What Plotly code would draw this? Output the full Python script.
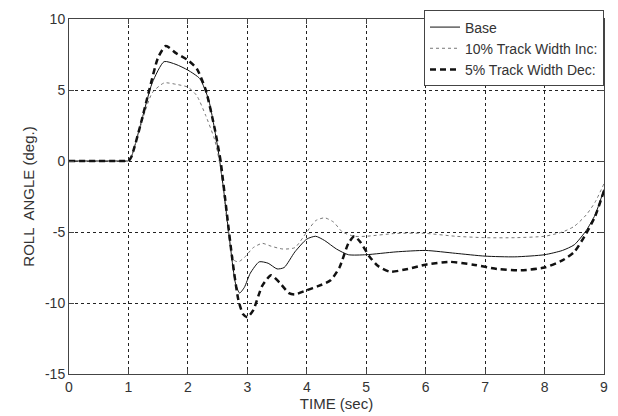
import plotly.graph_objects as go

# ---- data ----
t_base = [0, 0.9, 0.97, 1.0, 1.05, 1.2, 1.4, 1.6, 1.8, 2.0, 2.2, 2.35, 2.5, 2.6, 2.7, 2.8, 2.87, 2.95, 3.05, 3.2,
          3.35, 3.5, 3.62, 3.8, 4.0, 4.15, 4.3, 4.5, 4.7, 5.0, 5.5, 6.0, 6.5, 7.0, 7.5, 8.0, 8.3, 8.5,
          8.7, 8.85, 9.0]
v_base = [0, 0, 0, 0, 0.3, 2.5, 5.5, 7.0, 6.8, 6.4, 5.8, 4.3, 1.0, -2.0, -5.5, -8.6, -9.3, -8.9, -7.9, -7.1,
          -7.2, -7.6, -7.5, -6.4, -5.5, -5.3, -5.6, -6.2, -6.6, -6.6, -6.4, -6.3, -6.5, -6.7, -6.75,
          -6.6, -6.3, -5.9, -4.9, -3.8, -2.0]

t_inc = [0, 0.9, 0.97, 1.0, 1.05, 1.2, 1.4, 1.6, 1.8, 2.0, 2.15, 2.3, 2.45, 2.55, 2.65, 2.72, 2.78, 2.85, 2.95,
         3.1, 3.25, 3.4, 3.6, 3.8, 4.0, 4.15, 4.3, 4.45, 4.6, 4.8, 5.0, 5.5, 6.0, 6.5, 7.0, 7.5, 8.0,
         8.3, 8.5, 8.7, 8.85, 9.0]
v_inc = [0, 0, 0, 0, 0.3, 2.4, 4.8, 5.5, 5.4, 5.2, 4.6, 3.2, 1.5, -0.5, -4.0, -6.2, -7.0, -7.1, -6.8,
         -6.1, -5.8, -6.0, -6.2, -6.1, -5.0, -4.2, -4.0, -4.3, -5.0, -5.3, -5.3, -5.1, -5.1, -5.3,
         -5.4, -5.4, -5.3, -5.0, -4.6, -3.8, -2.9, -1.6]

t_dec = [0, 0.9, 0.97, 1.0, 1.05, 1.2, 1.35, 1.5, 1.63, 1.8, 2.0, 2.15, 2.3, 2.45, 2.55, 2.65, 2.75, 2.85, 2.93,
         3.0, 3.1, 3.25, 3.4, 3.55, 3.7, 3.8, 4.0, 4.2, 4.4, 4.55, 4.7, 4.8, 4.9, 5.05, 5.2, 5.4,
         5.7, 6.0, 6.4, 6.8, 7.2, 7.6, 8.0, 8.3, 8.5, 8.7, 8.85, 9.0]
v_dec = [0, 0, 0, 0, 0.3, 2.5, 5.0, 7.3, 8.1, 7.6, 7.1, 6.5, 5.0, 2.3, 0, -3.5, -7.0, -9.8, -10.8,
         -11.0, -10.5, -8.8, -8.05, -8.6, -9.3, -9.4, -9.1, -8.8, -8.4, -7.5, -5.8, -5.3, -5.7,
         -6.7, -7.4, -7.8, -7.6, -7.3, -7.1, -7.3, -7.6, -7.7, -7.5, -7.0, -6.4, -5.1, -3.9, -2.1]

series_names = ["Base", "10% Track Width Inc:", "5% Track Width Dec:"]
x_ticks = [0, 1, 2, 3, 4, 5, 6, 7, 8, 9]
x_ticktext = ["0", "1", "2", "3", "4", "5", "6", "7", "8", "9"]
y_ticks = [-15, -10, -5, 0, 5, 10]
y_ticktext = ["-15", "-10", "-5", "0", "5", "10"]

FONT = "Liberation Sans, Arial, sans-serif"
TXT = "#333333"

fig = go.Figure()
fig.add_trace(go.Scatter(x=t_base, y=v_base, mode="lines", name=series_names[0],
                         line=dict(color="#111111", width=1, shape="spline", smoothing=0.6)))
fig.add_trace(go.Scatter(x=t_inc, y=v_inc, mode="lines", name=series_names[1],
                         line=dict(color="#777777", width=1, dash="3px,3px", shape="spline", smoothing=0.6)))
fig.add_trace(go.Scatter(x=t_dec, y=v_dec, mode="lines", name=series_names[2],
                         line=dict(color="#111111", width=2.5, dash="6px,4px", shape="spline", smoothing=0.6)))

axis_common = dict(
    showline=True, linecolor="#444444", linewidth=1, mirror="ticks",
    ticks="inside", ticklen=5, tickcolor="#444444",
    showgrid=True, gridcolor="#222222", gridwidth=1, griddash="3px,3px",
    zeroline=False, tickfont=dict(family=FONT, size=14, color=TXT),
)

fig.update_xaxes(range=[0, 9], tickvals=x_ticks, ticktext=x_ticktext,
                 title=dict(text="TIME (sec)", font=dict(family=FONT, size=15, color=TXT), standoff=0),
                 **axis_common)
fig.update_yaxes(range=[-15, 10], tickvals=y_ticks, ticktext=y_ticktext,
                 title=dict(text="ROLL  ANGLE (deg.)", font=dict(family=FONT, size=15, color=TXT), standoff=6),
                 **axis_common)

fig.update_layout(
    width=618, height=416,
    margin=dict(l=69, r=14, t=10, b=42),
    paper_bgcolor="white", plot_bgcolor="white",
    font=dict(family=FONT, size=14, color=TXT),
    legend=dict(x=1, y=1.024, xanchor="right", yanchor="top", bgcolor="white",
                bordercolor="#444444", borderwidth=1, tracegroupgap=0,
                font=dict(family=FONT, size=14, color=TXT), itemwidth=30),
    showlegend=True,
)

fig.write_html("out.html")
